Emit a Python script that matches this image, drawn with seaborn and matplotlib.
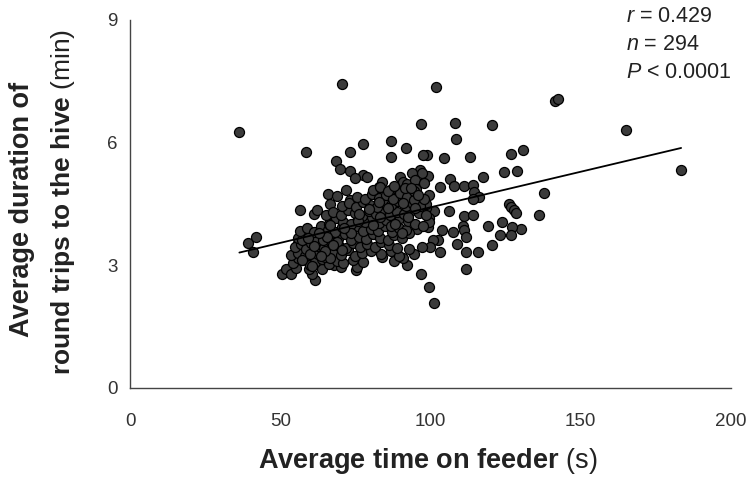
import numpy as np
import pandas as pd
import seaborn as sns
import matplotlib.pyplot as plt

# Average time on feeder (s) and average round-trip duration (min) per bee
time_on_feeder = [
    # outlying and peripheral bees
    36.4, 39.3, 42.0, 41.0, 70.6, 101.9, 141.4, 142.5, 165.2, 183.4,
    137.9, 136.1, 130.8, 126.9, 128.9, 124.4, 120.3, 108.1, 96.8, 108.5,
    113.3, 104.5, 99.0, 97.4, 91.9, 86.9, 77.6, 73.2, 58.6, 68.4,
    69.8, 86.7, 117.4, 111.2, 106.4, 107.9, 103.1, 99.2, 96.5, 97.3,
    93.9, 89.9, 90.7, 83.9, 77.5, 73.2, 74.9, 114.1, 114.5, 116.0,
    114.2, 111.3, 126.1, 126.9, 127.8, 128.5, 114.1, 106.2, 101.1, 123.9,
    119.3, 130.0, 127.0, 123.2, 126.9, 120.6, 115.7, 111.7, 111.8, 107.5,
    110.9, 111.3, 111.7, 108.8, 103.7, 103.2, 102.4, 100.8, 99.8, 96.8,
    99.4, 101.0, 97.1, 94.6, 92.3, 90.7, 83.9, 75.1, 75.5, 61.5,
    60.7, 59.6, 50.6, 51.9, 53.5, 55.3, 56.5, 61.2, 62.3, 65.8,
    73.2, 82.9, 86.4, 91.6, 93.8, 95.6, 98.6,
    68.0, 70.2, 64.0, 58.0, 56.0, 88.0, 93.0, 95.5, 99.5, 92.5,
    95.0, 72.0, 69.0, 66.5, 79.0,
    # main cluster
    54.2, 57.1, 59.8, 61.5, 63.9, 66.3, 68.8, 71.0, 74.2, 77.6, 60.4, 55.8,
    53.6, 55.9, 58.4, 60.1, 62.7, 65.0, 67.5, 70.2, 72.6, 74.9, 77.3, 80.1,
    83.4, 86.7, 89.5,
    55.0, 56.9, 58.6, 60.3, 62.4, 64.7, 66.9, 69.4, 71.8, 74.2, 76.5, 78.9,
    81.4, 83.6, 86.1, 88.7, 92.3, 94.8,
    55.8, 57.3, 59.5, 62.0, 64.3, 66.6, 69.1, 71.4, 73.7, 76.3, 78.6, 81.0,
    83.3, 85.8, 88.0, 90.5, 92.9, 96.4, 98.6,
    56.6, 58.9, 61.3, 63.6, 66.0, 68.3, 70.7, 73.0, 75.4, 77.7, 80.1, 82.4,
    84.9, 87.2, 89.6, 92.0, 95.2, 98.0, 99.2,
    57.4, 59.9, 66.3, 68.6, 70.9, 73.4, 75.8, 78.1, 80.5, 82.8, 85.2, 87.7,
    90.0, 92.4, 94.7, 99.6, 99.4,
    65.2, 67.7, 70.1, 72.4, 74.8, 77.2, 79.5, 81.9, 84.3, 86.6, 89.0, 91.3,
    93.8, 96.2, 98.5,
    70.4, 72.8, 75.1, 77.5, 79.9, 82.2, 84.6, 87.0, 89.3, 91.7, 94.1, 96.5,
    75.6, 78.1, 80.4, 82.8, 85.1, 87.5, 89.9, 92.2, 94.6,
    80.8, 83.3, 85.7, 88.0, 91.6, 94.4,
    68.9, 73.7, 97.8, 81.0, 93.4, 70.5, 75.9, 79.6, 83.3, 86.9,
    65.5, 71.2, 66.6, 88.1, 92.6, 64.9, 67.7, 90.8, 85.7, 90.4,
    61.1, 63.0, 76.2, 82.7, 94.8, 97.6, 59.2, 63.6, 66.4, 95.9,
]

round_trip = [
    6.25, 3.55, 3.69, 3.32, 7.43, 7.36, 7.03, 7.06, 6.31, 5.34,
    4.77, 4.24, 5.82, 5.73, 5.30, 5.29, 6.43, 6.49, 6.46, 6.10,
    5.65, 5.63, 5.69, 5.69, 5.87, 6.03, 5.96, 5.77, 5.77, 5.56,
    5.36, 5.64, 5.16, 4.95, 5.10, 4.93, 4.92, 5.18, 5.33, 5.27,
    5.26, 5.16, 5.04, 5.04, 5.22, 5.31, 5.14, 4.96, 4.80, 4.66,
    4.62, 4.20, 4.51, 4.43, 4.35, 4.28, 4.24, 4.32, 4.32, 4.06,
    3.95, 3.88, 3.94, 3.73, 3.73, 3.50, 3.32, 3.33, 2.92, 3.82,
    3.96, 3.86, 3.69, 3.53, 3.86, 3.33, 3.63, 3.61, 3.45, 2.78,
    2.47, 2.09, 3.46, 3.28, 3.02, 3.18, 3.20, 2.89, 2.96, 2.65,
    2.79, 2.92, 2.79, 2.92, 2.79, 2.93, 4.36, 4.26, 4.36, 4.75,
    4.59, 4.92, 4.84, 4.72, 4.54, 4.36, 4.40,
    3.00, 2.95, 2.90, 3.40, 3.55, 3.10, 3.40, 3.90, 4.15, 4.85,
    5.05, 4.85, 4.70, 4.50, 5.15,
    3.05, 3.12, 3.02, 3.08, 3.15, 3.04, 3.11, 3.06, 3.14, 3.09, 2.98, 3.18,
    3.25, 3.30, 3.22, 3.35, 3.27, 3.21, 3.33, 3.26, 3.38, 3.24, 3.31, 3.36,
    3.28, 3.34, 3.23,
    3.45, 3.52, 3.41, 3.55, 3.47, 3.42, 3.56, 3.48, 3.43, 3.54, 3.46, 3.51,
    3.44, 3.57, 3.49, 3.42, 4.98, 5.08,
    3.68, 3.62, 3.74, 3.66, 3.61, 3.72, 3.65, 3.77, 3.63, 3.70, 3.64, 3.76,
    3.67, 3.61, 3.73, 3.66, 3.78, 4.62, 4.51,
    3.84, 3.91, 3.82, 3.95, 3.87, 3.81, 3.93, 3.86, 3.97, 3.83, 3.90, 3.85,
    3.96, 3.82, 3.92, 3.87, 4.86, 5.02, 3.93,
    3.12, 3.27, 4.02, 4.15, 4.07, 4.01, 4.13, 4.06, 4.17, 4.03, 4.11, 4.04,
    4.16, 4.08, 4.02, 4.72, 4.06,
    4.24, 4.31, 4.22, 4.35, 4.27, 4.21, 4.33, 4.26, 4.37, 4.23, 4.30, 4.25,
    4.36, 4.28, 4.22,
    4.45, 4.52, 4.43, 4.56, 4.48, 4.42, 4.54, 4.47, 4.58, 4.44, 4.51, 4.46,
    4.66, 4.62, 4.74, 4.65, 4.71, 4.63, 4.76, 4.68, 4.61,
    4.85, 4.92, 4.83, 4.95, 4.88, 4.81,
    3.58, 3.79, 4.62, 3.99, 4.88, 3.38, 4.09, 4.38, 4.19, 3.95,
    3.69, 3.92, 3.17, 4.02, 4.19, 3.36, 3.49, 4.52, 4.39, 3.79,
    3.47, 3.78, 4.26, 4.56, 4.41, 3.96, 3.66, 3.22, 3.98, 4.72,
]

x_ticks = [0, 50, 100, 150, 200]
y_ticks = [0, 3, 6, 9]
stats_lines = ["$r$ = 0.429", "$n$ = 294", "$P$ < 0.0001"]

df = pd.DataFrame({"time": time_on_feeder, "duration": round_trip})

sns.set_theme(style="white")
plt.rcParams["font.family"] = ["Liberation Sans", "DejaVu Sans"]
plt.rcParams["mathtext.fontset"] = "custom"
plt.rcParams["mathtext.rm"] = "Liberation Sans"
plt.rcParams["mathtext.bf"] = "Liberation Sans:bold"
plt.rcParams["mathtext.it"] = "Liberation Sans:italic"

fig = plt.figure(figsize=(7.52, 4.90), dpi=100)
ax = fig.add_axes([130 / 752, 1 - 388 / 490, 601 / 752, 368 / 490])

sns.regplot(
    data=df, x="time", y="duration", ax=ax, ci=None, truncate=True,
    scatter_kws=dict(s=52, color="#3b3b3b", edgecolor="black",
                     linewidths=0.9, alpha=1),
    line_kws=dict(color="black", lw=1.3),
)

ax.set_xlim(0, 200)
ax.set_ylim(0, 9)
ax.set_xticks(x_ticks)
ax.set_yticks(y_ticks)
ax.set_xlabel("")
ax.set_ylabel("")
for side in ("top", "right"):
    ax.spines[side].set_visible(False)
for side in ("left", "bottom"):
    ax.spines[side].set_color("#444444")
    ax.spines[side].set_linewidth(1.0)
ax.tick_params(axis="both", direction="out", length=5, width=1,
               color="#444444", labelcolor="#333333", labelsize=13.5)
ax.tick_params(axis="x", pad=13)
ax.tick_params(axis="y", pad=4)

# axis titles
fig.text(428 / 752, 1 - 461 / 490,
         r"$\bf{Average\ time\ on\ feeder}$ (s)",
         ha="center", va="center", fontsize=19.5, color="#222222")
fig.text(22 / 752, 1 - 209 / 490, "Average duration of",
         rotation=90, ha="center", va="center", fontsize=19.5,
         fontweight="bold", color="#222222")
fig.text(63 / 752, 1 - 202 / 490,
         r"$\bf{round\ trips\ to\ the\ hive}$ (min)",
         rotation=90, ha="center", va="center", fontsize=19, color="#222222")

# correlation summary
for i, line in enumerate(stats_lines):
    fig.text(626 / 752, 1 - (17 + 27.5 * i) / 490, line,
             ha="left", va="center", fontsize=15.5, color="#222222")

fig.savefig("out.png", dpi=100)
